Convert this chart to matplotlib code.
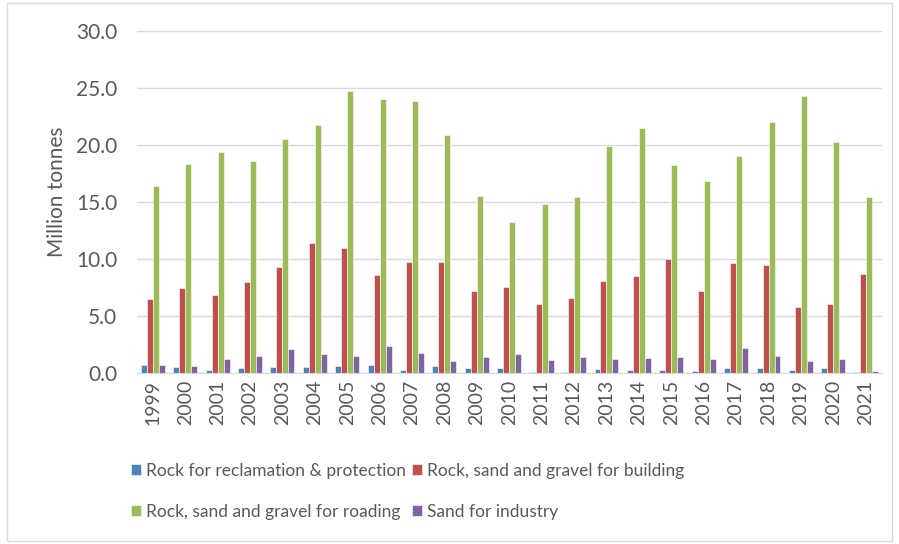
import matplotlib
matplotlib.use("Agg")
import matplotlib.pyplot as plt
import numpy as np
from matplotlib.patches import Rectangle

years = [str(y) for y in range(1999, 2022)]
reclamation = [0.70, 0.55, 0.30, 0.45, 0.55, 0.50, 0.65, 0.72, 0.26, 0.58, 0.41, 0.44,
               0.12, 0.06, 0.38, 0.29, 0.29, 0.15, 0.44, 0.44, 0.29, 0.47, 0.12]
building = [6.5, 7.45, 6.8, 8.0, 9.3, 11.4, 10.95, 8.6, 9.7, 9.75, 7.2, 7.55,
            6.05, 6.6, 8.05, 8.5, 10.0, 7.2, 9.65, 9.5, 5.8, 6.05, 8.65]
roading = [16.4, 18.3, 19.4, 18.6, 20.5, 21.75, 24.7, 24.0, 23.85, 20.9, 15.5, 13.25,
           14.8, 15.45, 19.9, 21.5, 18.25, 16.85, 19.05, 22.0, 24.3, 20.3, 15.4]
industry = [0.70, 0.60, 1.20, 1.50, 2.10, 1.70, 1.50, 2.40, 1.80, 1.08, 1.40, 1.67,
            1.14, 1.43, 1.20, 1.32, 1.37, 1.26, 2.20, 1.50, 1.02, 1.23, 0.20]
series_names = ["Rock for reclamation & protection", "Rock, sand and gravel for building",
                "Rock, sand and gravel for roading", "Sand for industry"]
colors = ["#4F81BD", "#C0504D", "#9BBB59", "#8064A2"]

plt.rcParams['font.family'] = ['Lato', 'DejaVu Sans']
txt = "#595959"

fig = plt.figure(figsize=(8.99, 5.44), dpi=100)
ax = fig.add_axes([0.152, 0.3143, 0.829, 0.6287])

x = np.arange(len(years))
w = 0.185
data = [reclamation, building, roading, industry]
bars = []
for i, (vals, c, n) in enumerate(zip(data, colors, series_names)):
    b = ax.bar(x + (i - 1.5) * w, vals, width=w, color=c, label=n,
               edgecolor="white", linewidth=0.4)
    bars.append(b)

ax.set_xlim(-0.5, len(years) - 0.5)
ax.set_ylim(0, 30)
ax.set_yticks(np.arange(0, 31, 5))
ax.set_yticklabels([f"{v:.1f}" for v in np.arange(0, 31, 5)], fontsize=15, color=txt)
ax.set_xticks(x)
ax.set_xticklabels(years, rotation=90, fontsize=14, color=txt)
ax.tick_params(axis='x', length=0, pad=5)
ax.tick_params(axis='y', length=0, pad=14)
ax.yaxis.grid(True, color="#D9D9D9", linewidth=1)
ax.set_axisbelow(True)
for s in ["top", "right", "left"]:
    ax.spines[s].set_visible(False)
ax.spines["bottom"].set_color("#D9D9D9")
ax.set_ylabel("Million tonnes", fontsize=15, color=txt)
ax.yaxis.set_label_coords(-0.093, 0.53)

order = [0, 2, 1, 3]
leg = fig.legend([bars[i] for i in order], [series_names[i] for i in order],
                 loc="upper left", bbox_to_anchor=(0.128, 0.178), ncol=2,
                 frameon=False, fontsize=12.5, handlelength=0.6, handleheight=0.6,
                 handletextpad=0.3, columnspacing=0.3, labelspacing=1.45)
for t in leg.get_texts():
    t.set_color(txt)

fig.patches.append(Rectangle((0.008, 0.006), 0.984, 0.988, transform=fig.transFigure,
                             fill=False, edgecolor="#D9D9D9", linewidth=1))
fig.savefig("out.png", dpi=100)
